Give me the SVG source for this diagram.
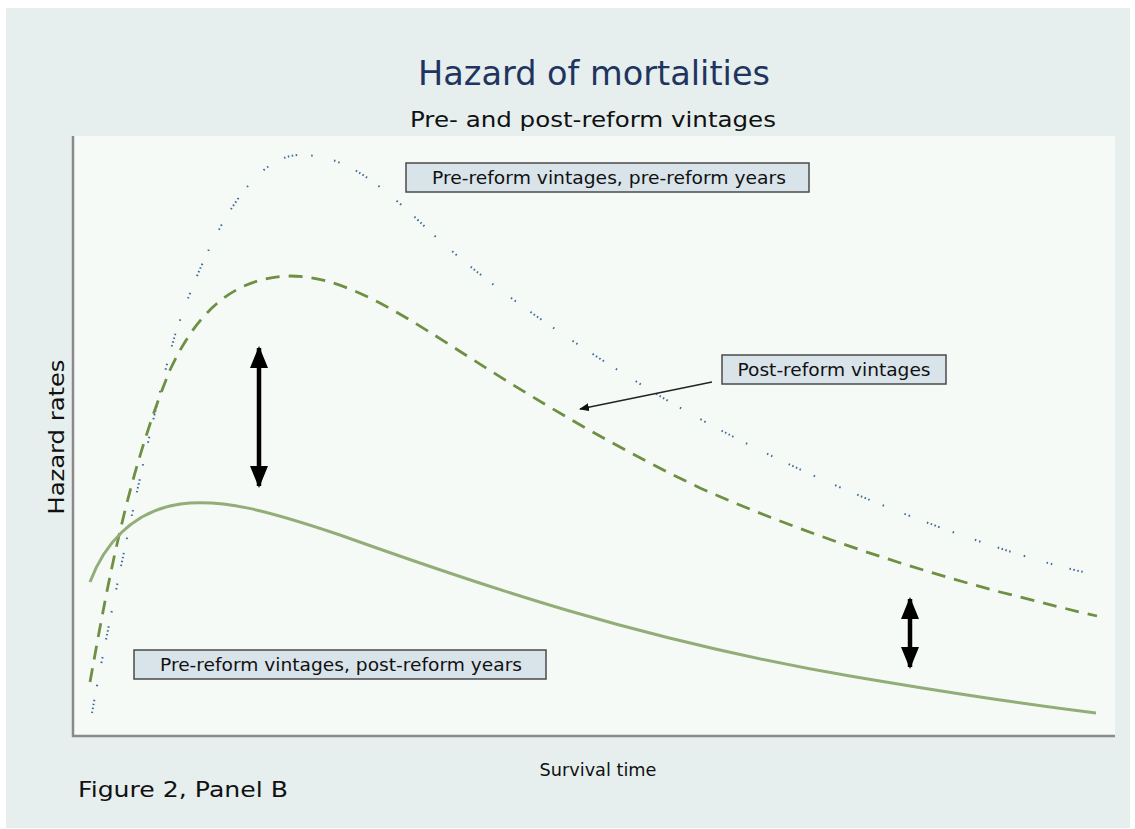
<svg xmlns="http://www.w3.org/2000/svg" width="1135" height="829" viewBox="0 0 1135 829">
<style>
.t{font-family:"DejaVu Sans","Liberation Sans",sans-serif;fill:#111}
.box rect{fill:#d9e3ea;stroke:#4a4a4a;stroke-width:1.5}
.box text{font-family:"DejaVu Sans","Liberation Sans",sans-serif;font-size:17.5px;fill:#111;text-anchor:middle}
.curve{fill:none}
</style>
<defs>
<marker id="bigHead" viewBox="0 0 22 18" refX="20" refY="9" markerWidth="22" markerHeight="18" markerUnits="userSpaceOnUse" orient="auto-start-reverse">
<path d="M0,0 L22,9 L0,18 Z" fill="#000"/>
</marker>
<marker id="smallHead" viewBox="0 0 10 8" refX="9" refY="4" markerWidth="10" markerHeight="8" markerUnits="userSpaceOnUse" orient="auto">
<path d="M0,0 L10,4 L0,8 Z" fill="#111"/>
</marker>
</defs>
<rect x="0" y="0" width="1135" height="829" fill="#ffffff"/>
<rect x="6" y="8" width="1124" height="820" fill="#e6efee"/>
<rect x="73" y="136" width="1042" height="600" fill="#f5faf7"/>
<line x1="73" y1="136" x2="73" y2="737" stroke="#8a8a8a" stroke-width="2.5"/>
<line x1="72" y1="736" x2="1115" y2="736" stroke="#8a8a8a" stroke-width="2.5"/>

<text class="t" x="594" y="85" font-size="34" text-anchor="middle" style="fill:#1f3560" textLength="352" lengthAdjust="spacingAndGlyphs">Hazard of mortalities</text>
<text class="t" x="593" y="127" font-size="22" text-anchor="middle" textLength="366" lengthAdjust="spacingAndGlyphs">Pre- and post-reform vintages</text>
<text class="t" x="0" y="0" font-size="22" text-anchor="middle" transform="translate(64,437) rotate(-90)" textLength="155" lengthAdjust="spacingAndGlyphs">Hazard rates</text>
<text class="t" x="598" y="776" font-size="17" text-anchor="middle" textLength="117" lengthAdjust="spacingAndGlyphs">Survival time</text>
<text class="t" x="78" y="797" font-size="22" textLength="210" lengthAdjust="spacingAndGlyphs">Figure 2, Panel B</text>

<g id="curves">
<path id="pre-pre" class="curve" d="M92,713 C105,640 150,420 175,335 C200,260 245,155 300,155 C340,155 370,175 420,222 C480,280 560,335 650,390 C740,445 850,495 950,531 C1000,549 1050,565 1088,573" stroke="#3d6b9a" stroke-width="2" stroke-dasharray="1.5,2.5,1.5,2.5,1.5,2.5,1.5,14,1.5,22,1.5,3,1.5,18"/>
<path id="post" class="curve" d="M90,682 C105,600 125,480 170,370 C200,305 240,277 290,276 C335,276 380,300 450,345 C520,390 600,440 700,488 C800,532 900,565 1000,592 C1040,602 1070,610 1097,616" stroke="#6f8f43" stroke-width="2.8" stroke-dasharray="14,9"/>
<path id="pre-post" class="curve" d="M90,582 C102,550 130,507 190,503 C225,501 260,508 340,535 C480,585 640,640 850,676 C950,693 1030,705 1096,713" stroke="#93ad79" stroke-width="3"/>
</g>

<g id="connectors">
<line x1="259" y1="348" x2="259" y2="486" stroke="#000" stroke-width="4.5" marker-start="url(#bigHead)" marker-end="url(#bigHead)"/>
<line x1="910" y1="599" x2="910" y2="667" stroke="#000" stroke-width="4.5" marker-start="url(#bigHead)" marker-end="url(#bigHead)"/>
<line x1="712" y1="382" x2="580" y2="409" stroke="#222" stroke-width="1.3" marker-end="url(#smallHead)"/>
</g>

<g id="label-pre-pre" class="box">
<rect x="406" y="163" width="403" height="29"/>
<text x="609" y="184" textLength="354" lengthAdjust="spacingAndGlyphs">Pre-reform vintages, pre-reform years</text>
</g>
<g id="label-post" class="box">
<rect x="722" y="355" width="224" height="29"/>
<text x="834" y="376" textLength="193" lengthAdjust="spacingAndGlyphs">Post-reform vintages</text>
</g>
<g id="label-pre-post" class="box">
<rect x="134" y="650" width="412" height="29"/>
<text x="341" y="671" textLength="362" lengthAdjust="spacingAndGlyphs">Pre-reform vintages, post-reform years</text>
</g>
</svg>
